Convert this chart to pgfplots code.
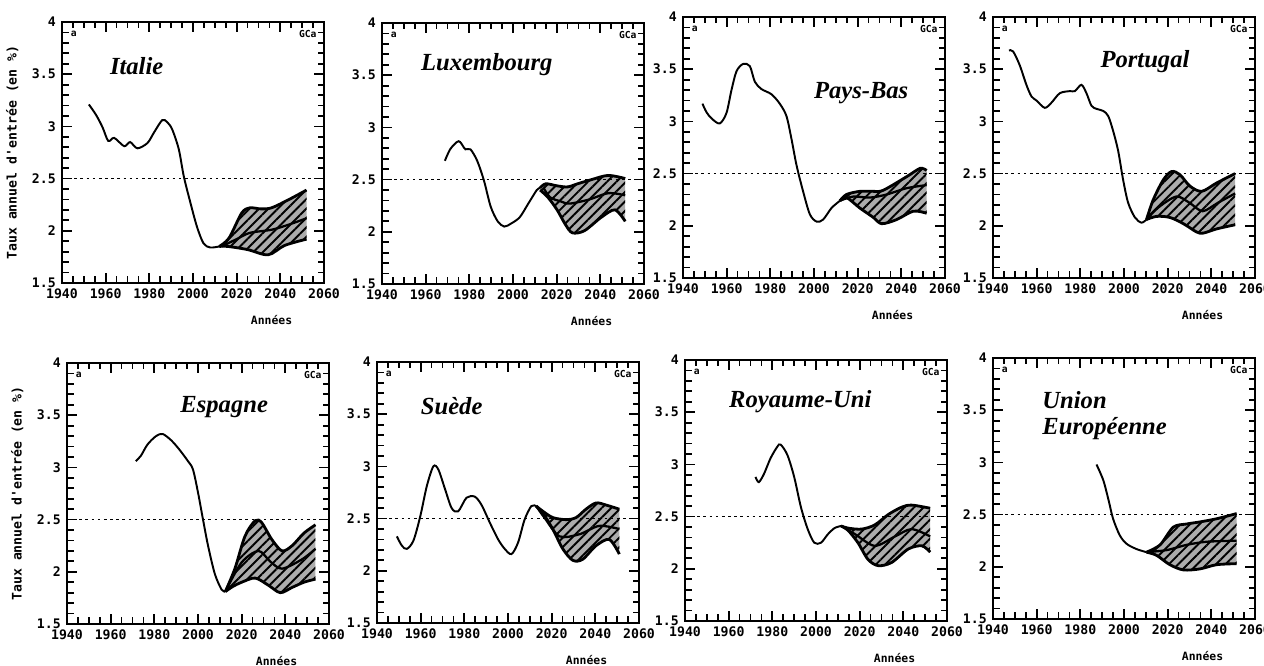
\documentclass[border=0pt]{standalone}
\usepackage{fontspec}
\usepackage{pgfplots}
\pgfplotsset{compat=1.18}
\usepgfplotslibrary{fillbetween}
\usetikzlibrary{patterns.meta}
\newfontfamily\plotfont{DejaVu Sans Mono}
\newfontfamily\titlefont{Liberation Serif}

\pgfplotsset{
  panel/.style={
    scale only axis, width=5.24cm, height=5.22cm, anchor=north west,
    xmin=1940, xmax=2060, ymin=1.5, ymax=4,
    xtick={1940,1960,...,2060}, ytick={1.5,2,...,4},
    minor x tick num=3, minor y tick num=4,
    tick align=inside,
    major tick length=0.2cm, minor tick length=0.13cm,
    every tick/.style={black, line width=1pt},
    axis line style={line width=1.2pt},
    tick label style={font=\plotfont\bfseries\fontsize{7.5}{8}\selectfont},
    /pgf/number format/assume math mode=true,
    x tick label style={/pgf/number format/1000 sep={}},
    xlabel={Années},
    xlabel style={font=\plotfont\bfseries\fontsize{6.5}{7}\selectfont,
      at={(axis description cs:0.8,-0.14)}, anchor=center},
    ylabel style={font=\plotfont\bfseries\fontsize{7.5}{8}\selectfont,
      at={(axis description cs:-0.19,0.5)}, anchor=center},
  },
  hist/.style={black, line width=1.1pt, smooth},
  edge/.style={black, line width=1.6pt, smooth},
  mid/.style={black, line width=1.3pt, smooth},
}
\newcommand\refline{\addplot[black, line width=0.6pt, dash pattern=on 1.5pt off 2pt] coordinates {(1940,2.5) (2060,2.5)};}
\newcommand\hatch[2]{%
  \addplot[fill=gray!65, draw=none] fill between[of=#1 and #2];
  \addplot[pattern={Lines[angle=45,distance=3.8pt,line width=1.1pt]}, pattern color=black, draw=none] fill between[of=#1 and #2];}
\newcommand\corners{%
  \node[font=\plotfont\bfseries\fontsize{5.5}{6}\selectfont, anchor=north west] at (rel axis cs:0.01,0.99) {a};
  \node[font=\plotfont\bfseries\fontsize{5.5}{6}\selectfont, anchor=north east] at (rel axis cs:0.995,0.99) {GCa};}
\newcommand\ttl[3]{\node[font=\titlefont\bfseries\itshape\fontsize{14}{15}\selectfont, align=left, anchor=#3] at (rel axis cs:#1) {#2};}

\begin{document}
\begin{tikzpicture}

% Italie
\begin{axis}[panel, at={(1.24cm,-0.44cm)}, ylabel={Taux annuel d'entrée (en \%)}]
\refline
\addplot[hist] coordinates {(1952.3,3.21)(1955.6,3.11)(1958.6,2.99)(1961.2,2.86)(1963.9,2.89)(1968.5,2.81)(1971.2,2.85)(1974.5,2.79)(1979.1,2.84)(1982.1,2.94)(1985.9,3.06)(1988.2,3.04)(1990.5,2.97)(1993.5,2.78)(1995.8,2.52)(1998.8,2.27)(2001.8,2.04)(2004.8,1.88)(2007.9,1.84)(2012,1.85)};
\addplot[edge, name path=U1] coordinates {(2012,1.85)(2016.5,1.93)(2022.3,2.17)(2026,2.22)(2031,2.21)(2036,2.22)(2044,2.30)(2052,2.39)};
\addplot[edge, name path=L1] coordinates {(2012,1.85)(2016,1.85)(2025,1.82)(2034.4,1.77)(2042,1.86)(2052,1.92)};
\hatch{U1}{L1}
\addplot[mid] coordinates {(2013,1.85)(2020,1.92)(2026,1.98)(2036,2.01)(2044,2.06)(2052,2.12)};
\ttl{0.285,0.83}{Italie}{center}
\corners
\end{axis}

% Luxembourg
\begin{axis}[panel, at={(7.64cm,-0.46cm)}]
\refline
\addplot[hist] coordinates {(1968.8,2.68)(1971.2,2.79)(1974.3,2.86)(1975.8,2.86)(1978.2,2.79)(1980.5,2.79)(1983.6,2.68)(1986.7,2.49)(1989.8,2.24)(1993,2.10)(1996,2.05)(1999.2,2.08)(2003.1,2.14)(2007,2.27)(2010.9,2.40)(2012.4,2.42)};
\addplot[edge, name path=U2] coordinates {(2012.4,2.42)(2015,2.46)(2020.2,2.44)(2025,2.43)(2029.6,2.46)(2036,2.50)(2043.6,2.54)(2051.4,2.51)};
\addplot[edge, name path=L2] coordinates {(2012.4,2.40)(2016,2.33)(2020.2,2.21)(2024,2.07)(2027.2,1.99)(2032.7,2.01)(2040.5,2.14)(2046.7,2.21)(2051.4,2.10)};
\hatch{U2}{L2}
\addplot[mid] coordinates {(2014,2.42)(2017,2.33)(2022,2.29)(2026,2.27)(2035,2.31)(2043.6,2.37)(2051.4,2.35)};
\ttl{0.40,0.84}{Luxembourg}{center}
\corners
\end{axis}

% Pays-Bas
\begin{axis}[panel, at={(13.66cm,-0.34cm)}]
\refline
\addplot[hist] coordinates {(1948.9,3.17)(1950.7,3.09)(1953,3.03)(1956.8,2.98)(1959.9,3.08)(1962.2,3.30)(1964.5,3.48)(1967.5,3.55)(1970.6,3.53)(1972.9,3.38)(1975.9,3.31)(1980.5,3.26)(1984.3,3.17)(1987.4,3.05)(1989.7,2.83)(1992,2.58)(1995,2.33)(1998.1,2.11)(2001.2,2.04)(2004.2,2.06)(2008,2.17)(2011.9,2.24)};
\addplot[edge, name path=U3] coordinates {(2011.9,2.24)(2014.9,2.30)(2021,2.33)(2027.2,2.33)(2031.7,2.34)(2042.4,2.47)(2048.6,2.55)(2051.6,2.53)};
\addplot[edge, name path=L3] coordinates {(2011.9,2.24)(2014.9,2.27)(2021,2.17)(2027.2,2.08)(2031,2.02)(2037.9,2.06)(2045.5,2.14)(2051.6,2.12)};
\hatch{U3}{L3}
\addplot[mid] coordinates {(2011.9,2.24)(2018,2.28)(2025.6,2.27)(2033.3,2.30)(2042.4,2.36)(2051.6,2.39)};
\ttl{0.68,0.71}{Pays-Bas}{center}
\corners
\end{axis}

% Portugal
\begin{axis}[panel, at={(19.86cm,-0.34cm)}]
\refline
\addplot[hist] coordinates {(1947.3,3.68)(1949.2,3.67)(1952.2,3.54)(1955.3,3.35)(1957.6,3.24)(1959.9,3.20)(1963.7,3.13)(1966.8,3.18)(1970.6,3.27)(1975.2,3.29)(1977.5,3.29)(1980.5,3.35)(1982.8,3.27)(1985.1,3.15)(1987.4,3.12)(1990.5,3.10)(1992.8,3.05)(1995,2.91)(1997.3,2.72)(1999.6,2.44)(2001.9,2.22)(2005,2.08)(2008,2.03)(2010.3,2.06)};
\addplot[edge, name path=U4] coordinates {(2010.3,2.06)(2013.4,2.25)(2018,2.44)(2021.8,2.52)(2025.6,2.49)(2030.2,2.38)(2035.6,2.33)(2042.4,2.41)(2050.9,2.50)};
\addplot[edge, name path=L4] coordinates {(2010.3,2.06)(2014.9,2.09)(2021,2.08)(2027.2,2.02)(2033.3,1.94)(2036.3,1.93)(2042.4,1.97)(2050.9,2.01)};
\hatch{U4}{L4}
\addplot[mid] coordinates {(2010.3,2.06)(2016,2.18)(2024,2.28)(2030,2.22)(2036,2.14)(2043,2.22)(2050.9,2.31)};
\ttl{0.58,0.83}{Portugal}{center}
\corners
\end{axis}

% Espagne
\begin{axis}[panel, at={(1.34cm,-7.26cm)}, ylabel={Taux annuel d'entrée (en \%)}]
\refline
\addplot[hist] coordinates {(1971.5,3.06)(1973.8,3.11)(1976.9,3.22)(1980.8,3.30)(1983.8,3.32)(1987.7,3.26)(1991.5,3.17)(1995.4,3.06)(1997.7,2.98)(2000,2.76)(2002.3,2.50)(2004.6,2.25)(2007.7,1.98)(2010.8,1.83)(2012.5,1.81)};
\addplot[edge, name path=U5] coordinates {(2012.5,1.81)(2016.9,2.03)(2021.5,2.34)(2026.2,2.49)(2029.2,2.47)(2033.8,2.31)(2038.5,2.20)(2043.1,2.25)(2048.5,2.37)(2053.8,2.45)};
\addplot[edge, name path=L5] coordinates {(2012.5,1.81)(2016,1.86)(2020,1.90)(2026.2,1.94)(2032.3,1.87)(2037.7,1.80)(2043.1,1.85)(2048.5,1.90)(2053.8,1.93)};
\hatch{U5}{L5}
\addplot[mid] coordinates {(2012.5,1.81)(2020,2.09)(2027.7,2.20)(2033,2.10)(2038.5,2.03)(2047.7,2.12)(2053.8,2.22)};
\ttl{0.60,0.83}{Espagne}{center}
\corners
\end{axis}

% Suede
\begin{axis}[panel, at={(7.54cm,-7.24cm)}]
\refline
\addplot[hist] coordinates {(1949.1,2.33)(1951.4,2.24)(1953.7,2.21)(1956.7,2.29)(1959.8,2.52)(1962.8,2.81)(1965.8,3.00)(1968.1,2.97)(1971.2,2.78)(1974.2,2.60)(1977.2,2.57)(1981,2.70)(1984.8,2.71)(1987.9,2.63)(1991.7,2.46)(1995.5,2.30)(1998.5,2.21)(2001.6,2.16)(2004.6,2.27)(2007.6,2.49)(2010.7,2.62)(2012.9,2.62)};
\addplot[edge, name path=U6] coordinates {(2012.9,2.62)(2016,2.57)(2020.5,2.51)(2026.6,2.49)(2031.2,2.51)(2035.7,2.59)(2040.3,2.65)(2044.9,2.63)(2051,2.59)};
\addplot[edge, name path=L6] coordinates {(2012.9,2.62)(2016,2.55)(2020.5,2.40)(2025.1,2.21)(2029.7,2.10)(2034.2,2.11)(2040.3,2.24)(2046.4,2.30)(2051,2.16)};
\hatch{U6}{L6}
\addplot[mid] coordinates {(2012.9,2.62)(2017,2.50)(2023.6,2.33)(2032.7,2.35)(2041.8,2.43)(2051,2.40)};
\ttl{0.285,0.83}{Suède}{center}
\corners
\end{axis}

% Royaume-Uni
\begin{axis}[panel, at={(13.70cm,-7.20cm)}]
\refline
\addplot[hist] coordinates {(1972.3,2.88)(1973.8,2.83)(1976.2,2.91)(1979.2,3.06)(1982.3,3.17)(1983.8,3.19)(1986.9,3.09)(1990,2.88)(1993.1,2.59)(1996.2,2.38)(1999.2,2.25)(2002.3,2.25)(2005.4,2.33)(2008.5,2.39)(2011.5,2.41)};
\addplot[edge, name path=U7] coordinates {(2011.5,2.41)(2014.6,2.39)(2020.8,2.38)(2026.9,2.42)(2033.1,2.52)(2039.2,2.59)(2043.8,2.61)(2052.3,2.58)};
\addplot[edge, name path=L7] coordinates {(2011.5,2.41)(2014.6,2.37)(2019.2,2.25)(2023.8,2.09)(2028.5,2.03)(2034.6,2.06)(2042.3,2.19)(2048.5,2.22)(2052.3,2.16)};
\hatch{U7}{L7}
\addplot[mid] coordinates {(2011.5,2.41)(2018,2.33)(2026.9,2.22)(2036.2,2.31)(2043.8,2.38)(2052.3,2.31)};
\ttl{0.44,0.84}{Royaume-Uni}{center}
\corners
\end{axis}

% Union Europeenne
\begin{axis}[panel, at={(19.86cm,-7.16cm)}]
\refline
\addplot[hist] coordinates {(1987.4,2.98)(1990.5,2.83)(1992.8,2.65)(1995,2.46)(1998.1,2.30)(2001.2,2.22)(2005.7,2.17)(2010.3,2.14)};
\addplot[edge, name path=U8] coordinates {(2010.3,2.14)(2016.5,2.21)(2022.6,2.38)(2028.7,2.41)(2034.8,2.43)(2042.4,2.46)(2051.6,2.51)};
\addplot[edge, name path=L8] coordinates {(2010.3,2.14)(2014.9,2.11)(2021,2.02)(2027.2,1.97)(2034.8,1.98)(2042.4,2.02)(2051.6,2.03)};
\hatch{U8}{L8}
\addplot[mid] coordinates {(2010.3,2.14)(2019.5,2.16)(2028.7,2.21)(2037.9,2.24)(2051.6,2.25)};
\ttl{0.165,0.78}{Union\\Européenne}{west}
\corners
\end{axis}

\pgfresetboundingbox
\path[use as bounding box] (0,0) rectangle (25.28,-13.32);
\end{tikzpicture}
\end{document}
